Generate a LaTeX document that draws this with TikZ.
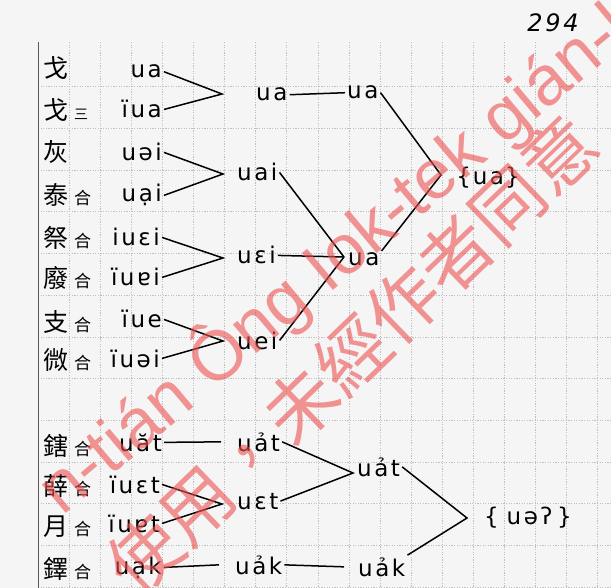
\documentclass[tikz,border=0pt]{standalone}
\usepackage{fontspec}
\setmainfont{DejaVu Sans}
\newfontfamily\ipafont[LetterSpace=11]{DejaVu Sans}
\newfontfamily\cjk{Noto Sans CJK TC}
\newfontfamily\wmfont{Liberation Sans}
\usetikzlibrary{calc}
\definecolor{wmred}{RGB}{238,80,80}
\begin{document}
\begin{tikzpicture}[x=1pt,y=-1pt,
  gridline/.style={gray!50, line width=0.7pt, dash pattern=on 1.2pt off 1.4pt},
  ipa/.style={font=\ipafont\fontsize{23}{23}\selectfont, inner sep=2pt},
  han/.style={font=\cjk\fontsize{25}{25}\selectfont, inner sep=0pt, anchor=base west},
  link/.style={line width=1.5pt, black},
  wm/.style={text=wmred, opacity=0.6, inner sep=0pt}]
\useasboundingbox (0,0) rectangle (611,588);
\fill[white!96!black] (0,0) rectangle (611,588);
% grid
\foreach \k in {1,...,18} \draw[gridline] ({38+31.1*\k},42) -- ({38+31.1*\k},588);
\foreach \k in {1,...,13} \draw[gridline] (38,{45+41.7*\k}) -- (611,{45+41.7*\k});
\draw[gray!70!black, line width=0.9pt] (38,42) -- (38,588);
% page number
\node[font=\ipafont\itshape\fontsize{24}{24}\selectfont, anchor=base] (pg) at (553,32) {294};
% Chinese labels
\newcommand\hesmall{\hspace{6pt}{\fontsize{17}{17}\selectfont 合}}
\node[han] (h1) at (43,78) {戈};
\node[han] (h2) at (43,120) {戈\hspace{6pt}{\fontsize{14}{14}\selectfont 三}};
\node[han] (h3) at (43,162) {灰};
\node[han] (h4) at (43,205) {泰\hesmall};
\node[han] (h5) at (43,248) {祭\hesmall};
\node[han] (h6) at (43,288) {廢\hesmall};
\node[han] (h7) at (43,332) {支\hesmall};
\node[han] (h8) at (43,370) {微\hesmall};
\node[han] (h9) at (43,455) {鎋\hesmall};
\node[han] (h10) at (43,495) {薛\hesmall};
\node[han] (h11) at (43,535) {月\hesmall};
\node[han] (h12) at (43,578) {鐸\hesmall};
% column A
\node[ipa, anchor=base east] (a1) at (164,78) {ua};
\node[ipa, anchor=base east] (a2) at (164,118) {ïua};
\node[ipa, anchor=base east] (a3) at (164,161) {uəi};
\node[ipa, anchor=base east] (a4) at (164,202) {uại};
\node[ipa, anchor=base east] (a5) at (162,246) {iuɛi};
\node[ipa, anchor=base east] (a6) at (162,286) {ïuɐi};
\node[ipa, anchor=base east] (a7) at (164,328) {ïue};
\node[ipa, anchor=base east] (a8) at (162,367) {ïuəi};
\node[ipa, anchor=base east] (a9) at (164,451) {uăt};
\node[ipa, anchor=base east] (a10) at (162,493) {ïuɛt};
\node[ipa, anchor=base east] (a11) at (162,532) {ïuɐt};
\node[ipa, anchor=base east] (a12) at (164,574) {uạk};
% column B
\node[ipa, anchor=base west] (b1) at (254,101) {ua};
\node[ipa, anchor=base west] (b2) at (235,181) {uai};
\node[ipa, anchor=base west] (b3) at (235,264) {uɛi};
\node[ipa, anchor=base west] (b4) at (235,349) {uei};
\node[ipa, anchor=base west] (b9) at (235,451) {uảt};
\node[ipa, anchor=base west] (b10) at (235,509) {uɛt};
\node[ipa, anchor=base west] (b12) at (233,574) {uảk};
% column C
\node[ipa, anchor=base west] (c1) at (345,99) {ua};
\node[ipa, anchor=base west] (c2) at (346,266) {ua};
\node[ipa, anchor=base west] (c9) at (355,476) {uảt};
\node[ipa, anchor=base west] (c12) at (356,576) {uảk};
% column D
\node[ipa, anchor=base] (d1) at (488,185) {\{\kern2pt ua\kern1pt\}};
\node[ipa, anchor=base] (d2) at (528,524) {\{\kern8pt uəʔ\kern5pt\}};
% vertices
\coordinate (v1) at (222,94);
\coordinate (v2) at (223,174);
\coordinate (v3) at (223,258);
\coordinate (v4) at (223,341);
\coordinate (v5) at (222,504);
\coordinate (v6) at (344,257);
\coordinate (v7) at (441,175);
\coordinate (v8) at (353,473);
\coordinate (v9) at (467,518);
% connectors
\draw[link] (a1.east) -- (v1) -- (a2.east);
\draw[link] (a3.east) -- (v2) -- (a4.east);
\draw[link] (a5.east) -- (v3) -- (a6.east);
\draw[link] (a7.east) -- (v4) -- (a8.east);
\draw[link] (b1.east) -- (c1.west);
\draw[link] (b2.east) -- (v6);
\draw[link] (b3.east) -- (v6);
\draw[link] (b4.east) -- (v6);
\draw[link] (c1.east) -- (v7) -- (c2.north east);
\draw[link] (a9.east) -- ([xshift=-14pt]b9.west);
\draw[link] (a10.east) -- (v5) -- (a11.east);
\draw[link] (b9.east) -- (v8) -- (b10.east);
\draw[link] (a12.east) -- ([xshift=-14pt]b12.west);
\draw[link] (b12.east) -- ([xshift=-12pt]c12.west);
\draw[link] (c9.east) -- (v9) -- (c12.north east);
% watermark
\node[wm, rotate=40, font=\wmfont\fontsize{70}{70}\selectfont, anchor=base west] (w1) at (212,392) {Ông Iok-tek gián-kiù};
\node[wm, rotate=40, font=\wmfont\fontsize{70}{70}\selectfont, anchor=base east] (w2) at (197,404) {n-tián};
\node[wm, rotate=44, font=\cjk\fontsize{72}{72}\selectfont, anchor=west] (w3) at (274,430) {未經作者同意};
\node[wm, rotate=44, font=\cjk\fontsize{72}{72}\selectfont, anchor=east] (w4) at (274,430) {使用，};
\end{tikzpicture}
\end{document}
